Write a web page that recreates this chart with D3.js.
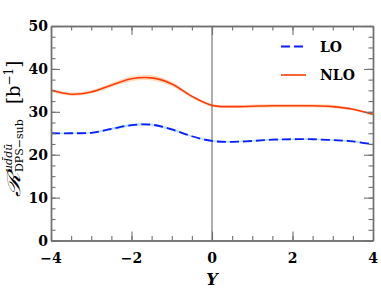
<!DOCTYPE html>
<html>
<head>
<meta charset="utf-8">
<script src="https://cdn.jsdelivr.net/npm/d3@7"></script>
<style>
	body { margin: 0; background: #fff; }
	svg text { font-family: 'DejaVu Serif', serif; }
</style>
</head>
<body>
<svg></svg>
<script>
const rapidity = [-4, -3.5, -3, -2.5, -2, -1.5, -1, -0.5, 0, 0.5, 1, 1.5, 2, 2.5, 3, 3.5, 4];
const loValues = [25.0, 25.0, 25.1, 26.0, 26.9, 27.0, 25.9, 24.3, 23.2, 23.0, 23.2, 23.5, 23.6, 23.6, 23.4, 23.1, 22.4];
const nloValues = [35.0, 34.1, 34.6, 36.2, 37.7, 37.9, 36.5, 33.6, 31.5, 31.2, 31.3, 31.4, 31.4, 31.4, 31.2, 30.6, 29.4];
const loBand = [0.2, 0.2, 0.2, 0.3, 0.3, 0.3, 0.3, 0.2, 0.2, 0.2, 0.2, 0.2, 0.2, 0.2, 0.2, 0.2, 0.2];
const nloBand = [0.4, 0.4, 0.4, 0.5, 0.6, 0.6, 0.5, 0.4, 0.3, 0.3, 0.4, 0.4, 0.4, 0.4, 0.4, 0.3, 0.3];
const xTicks = [-4, -2, 0, 2, 4];
const yTicks = [0, 10, 20, 30, 40, 50];

const width = 381;
const height = 294;
const margin = { left: 51, right: 8, top: 26, bottom: 53.5 };

const svg = d3.select('svg')
	.attr('width', width)
	.attr('height', height)
	.attr('viewBox', [0, 0, width, height]);

const x = d3.scaleLinear()
	.domain([-4, 4])
	.range([margin.left, width - margin.right]);

const y = d3.scaleLinear()
	.domain([0, 50])
	.range([height - margin.bottom, margin.top]);

const lo = rapidity.map((r, i) => ({ r, v: loValues[i], b: loBand[i] }));
const nlo = rapidity.map((r, i) => ({ r, v: nloValues[i], b: nloBand[i] }));

const area = d3.area()
	.x(d => x(d.r))
	.y0(d => y(d.v - d.b))
	.y1(d => y(d.v + d.b))
	.curve(d3.curveCatmullRom);

const line = d3.line()
	.x(d => x(d.r))
	.y(d => y(d.v))
	.curve(d3.curveCatmullRom);

// uncertainty bands
svg.append('path').attr('d', area(nlo)).attr('fill', '#ffdcbc');
svg.append('path').attr('d', area(lo)).attr('fill', '#bfe0ff');

// zero line
svg.append('line')
	.attr('x1', x(0)).attr('x2', x(0))
	.attr('y1', y(0)).attr('y2', y(50))
	.attr('stroke', '#777')
	.attr('stroke-width', 1.2);

svg.append('path')
	.attr('d', line(nlo))
	.attr('fill', 'none')
	.attr('stroke', '#ff3c0a')
	.attr('stroke-width', 1.6);

svg.append('path')
	.attr('d', line(lo))
	.attr('fill', 'none')
	.attr('stroke', '#0a1eff')
	.attr('stroke-width', 1.8)
	.attr('stroke-dasharray', '9,4');

// axes with inward ticks on all four sides
const gray = '#707070';
const xMinor = d3.range(-4, 4.001, 0.5);
const yMinor = d3.range(0, 50.001, 2.5);

function ticks(axis, vals, len) {
	return axis.tickValues(vals).tickSize(len).tickSizeOuter(0).tickFormat('');
}

const frame = svg.append('g');
frame.append('g').attr('transform', `translate(0,${y(0)})`).call(ticks(d3.axisTop(x), xMinor, 4.5));
frame.append('g').attr('transform', `translate(0,${y(0)})`).call(ticks(d3.axisTop(x), xTicks, 9));
frame.append('g').attr('transform', `translate(0,${y(50)})`).call(ticks(d3.axisBottom(x), xMinor, 4.5));
frame.append('g').attr('transform', `translate(0,${y(50)})`).call(ticks(d3.axisBottom(x), xTicks, 9));
frame.append('g').attr('transform', `translate(${x(-4)},0)`).call(ticks(d3.axisRight(y), yMinor, 4.5));
frame.append('g').attr('transform', `translate(${x(-4)},0)`).call(ticks(d3.axisRight(y), yTicks, 9));
frame.append('g').attr('transform', `translate(${x(4)},0)`).call(ticks(d3.axisLeft(y), yMinor, 4.5));
frame.append('g').attr('transform', `translate(${x(4)},0)`).call(ticks(d3.axisLeft(y), yTicks, 9));
frame.selectAll('path, line').attr('stroke', gray).attr('stroke-width', 1.1);
frame.selectAll('path.domain').attr('stroke-width', 1.4);

// tick labels
svg.append('g')
	.selectAll('text')
	.data(xTicks)
	.enter()
		.append('text')
		.attr('x', d => x(d))
		.attr('y', y(0) + 22)
		.attr('text-anchor', 'middle')
		.attr('font-size', 14)
		.attr('font-weight', 'bold')
		.text(d => d < 0 ? '\u2212' + Math.abs(d) : d);

svg.append('g')
	.selectAll('text')
	.data(yTicks)
	.enter()
		.append('text')
		.attr('x', x(-4) - 3)
		.attr('y', d => y(d) + 5)
		.attr('text-anchor', 'end')
		.attr('font-size', 14)
		.attr('font-weight', 'bold')
		.text(d => d);

// x title
svg.append('text')
	.attr('x', x(0))
	.attr('y', 285)
	.attr('text-anchor', 'middle')
	.attr('font-size', 16)
	.attr('font-weight', 'bold')
	.attr('font-style', 'italic')
	.text('Y');

// y title
const yt = svg.append('g').attr('transform', 'translate(20,197) rotate(-90)');
yt.append('text').attr('transform', 'scale(1.55,1)').attr('font-size', 18).attr('font-style', 'italic')
	.text('\u211B');
yt.append('text').attr('x', 25).attr('y', -8).attr('font-size', 11).attr('font-style', 'italic')
	.text('ud\u0304du\u0304');
yt.append('text').attr('x', 25).attr('y', 3).attr('font-size', 11).text('DPS\u2212sub');
const unit = yt.append('text').attr('x', 93).attr('y', 0).attr('font-size', 18);
unit.append('tspan').text('[b');
unit.append('tspan').attr('dy', -7).attr('font-size', 12).text('\u22121');
unit.append('tspan').attr('dy', 7).text(']');

// legend
const legend = [
	{ label: 'LO', color: '#0a1eff', dash: '9,4', w: 1.8, ly: 46.5 },
	{ label: 'NLO', color: '#ff3c0a', dash: null, w: 1.6, ly: 75 }
];
const lg = svg.append('g')
	.selectAll('g')
	.data(legend)
	.enter()
		.append('g');
lg.append('line')
	.attr('x1', 281).attr('x2', 306)
	.attr('y1', d => d.ly).attr('y2', d => d.ly)
	.attr('stroke', d => d.color)
	.attr('stroke-width', d => d.w)
	.attr('stroke-dasharray', d => d.dash);
lg.append('text')
	.attr('x', 320)
	.attr('y', d => d.ly + 5)
	.attr('font-size', 14)
	.attr('font-weight', 'bold')
	.text(d => d.label);
</script>
</body>
</html>
